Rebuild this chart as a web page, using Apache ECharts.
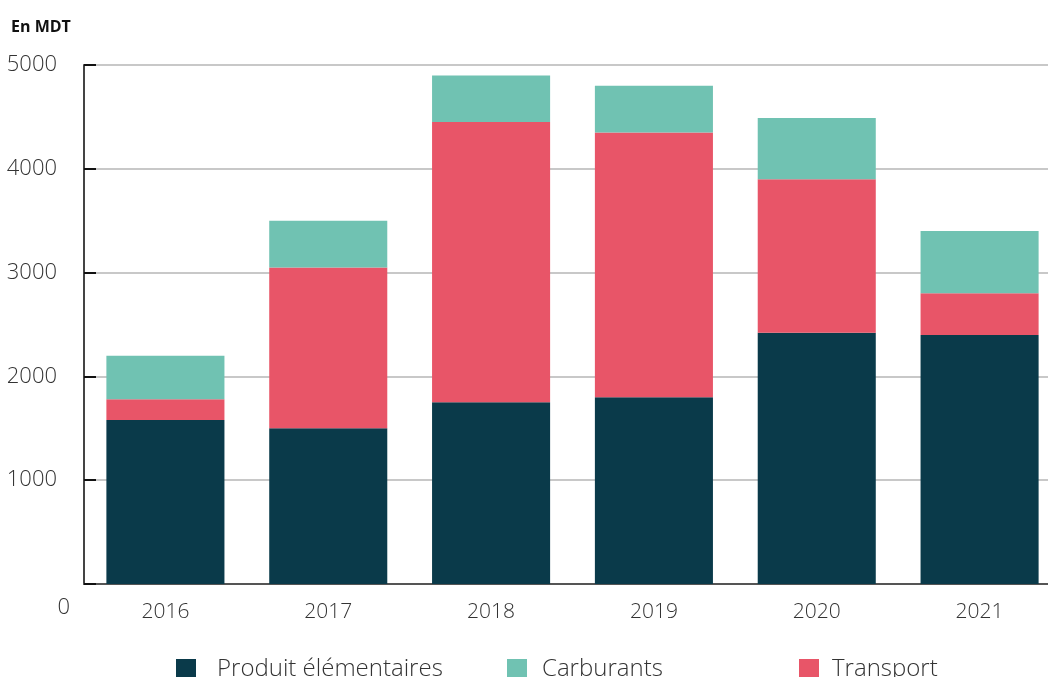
<!DOCTYPE html>
<html>
<head>
<meta charset="utf-8">
<script src="https://cdn.jsdelivr.net/npm/echarts@6/dist/echarts.min.js"></script>
<style>
  html, body { margin: 0; padding: 0; background: #fff; overflow: hidden; }
  /* le graphique déborde à droite comme l'original */
  #chart { width: 1061px; height: 677px; }
</style>
</head>
<body>
<div id="chart"></div>
<script>
// données (MDT)
const years = ['2016', '2017', '2018', '2019', '2020', '2021'];
const produitElementaires = [1580, 1500, 1750, 1800, 2420, 2400];
const transport = [200, 1550, 2700, 2550, 1480, 400];
const carburants = [420, 450, 450, 450, 590, 600];

const FONT = '"Open Sans", sans-serif';

const chart = echarts.init(document.getElementById('chart'));

const legendItem = (name, left, gap) => ({
  orient: 'horizontal',
  left: left,
  top: 657,
  padding: 0,
  itemWidth: 20,
  itemHeight: 20,
  icon: 'rect',
  data: [name],
  textStyle: { fontFamily: FONT, fontSize: 24, fontWeight: 300, color: '#333', padding: [0, 0, 0, gap] }
});

const option = {
  animation: false,
  textStyle: { fontFamily: FONT },
  title: {
    text: 'En MDT',
    left: 11,
    top: 19,
    padding: 0,
    textStyle: { fontFamily: FONT, fontSize: 16, fontWeight: 'bold', color: '#111' }
  },
  legend: [
    legendItem('Produit élémentaires', 176, 16),
    legendItem('Carburants', 507, 10),
    legendItem('Transport', 799, 8)
  ],
  grid: { left: 84, right: 0, top: 65, bottom: 93, containLabel: false },
  xAxis: {
    type: 'category',
    data: years,
    axisLine: { show: true, lineStyle: { color: '#555', width: 2 } },
    axisTick: { show: false },
    axisLabel: { margin: 18, fontFamily: FONT, fontSize: 21, fontWeight: 300, color: '#333' }
  },
  yAxis: {
    type: 'value',
    min: 0,
    max: 5000,
    interval: 1000,
    axisLine: { show: true, lineStyle: { color: '#444', width: 2 } },
    axisTick: { show: true, inside: true, length: 12, lineStyle: { color: '#111', width: 2 } },
    splitLine: { show: true, lineStyle: { color: '#c8c8c8', width: 2 } },
    axisLabel: {
      margin: 14,
      formatter: function (v) { return v === 0 ? '{z|0}' : '{n|' + v + '}'; },
      rich: {
        n: { fontFamily: FONT, fontSize: 22, fontWeight: 300, color: '#333', padding: [0, 13, 0, 0] },
        z: { fontFamily: FONT, fontSize: 22, fontWeight: 300, color: '#333', padding: [48, 0, 0, 0] }
      }
    }
  },
  series: [
    {
      name: 'Produit élémentaires',
      type: 'bar',
      stack: 'total',
      barWidth: '72.5%',
      itemStyle: { color: '#0a3a4a' },
      data: produitElementaires
    },
    {
      name: 'Transport',
      type: 'bar',
      stack: 'total',
      itemStyle: { color: '#e85568' },
      data: transport
    },
    {
      name: 'Carburants',
      type: 'bar',
      stack: 'total',
      itemStyle: { color: '#70c2b2' },
      data: carburants
    }
  ]
};

chart.setOption(option);
</script>
</body>
</html>
